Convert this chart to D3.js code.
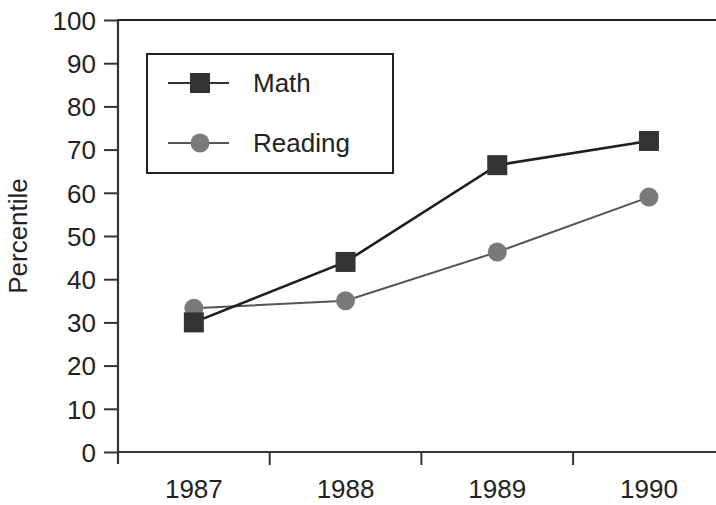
<!DOCTYPE html>
<html>
<head>
<meta charset="utf-8">
<script src="https://cdn.jsdelivr.net/npm/d3@7"></script>
<style>
  html, body { margin: 0; padding: 0; background: #fff; }
  svg { display: block; }
  text { font-family: "Liberation Sans", Arial, sans-serif; fill: #222; }
</style>
</head>
<body>
<svg id="chart" width="716" height="505"></svg>
<script>
const years = ["1987", "1988", "1989", "1990"];
const mathValues = [30, 44, 66.4, 72];
const readingValues = [33.3, 35, 46.3, 59];
const yTicks = [0, 10, 20, 30, 40, 50, 60, 70, 80, 90, 100];
const seriesNames = ["Math", "Reading"];

(function () {
const svg = d3.select("#chart");
const W = 716;
const plotLeft = 118, plotTop = 20, plotBottom = 452;
const step = 151.7;

const x = d3.scaleBand().domain(years).range([plotLeft, plotLeft + step * years.length]).padding(0);
const y = d3.scaleLinear().domain([0, 100]).range([plotBottom, plotTop]);

const axisColor = "#333";
const fontSize = 26;

// top frame line
svg.append("line")
  .attr("x1", plotLeft).attr("x2", W).attr("y1", plotTop).attr("y2", plotTop)
  .attr("stroke", "#222").attr("stroke-width", 2);

// y axis
const yAxis = d3.axisLeft(y).tickValues(yTicks).tickSize(14).tickPadding(8);
const gy = svg.append("g").attr("transform", `translate(${plotLeft},0)`).call(yAxis);
gy.select(".domain").remove();
gy.selectAll(".tick line").attr("stroke", axisColor).attr("stroke-width", 2);
gy.selectAll(".tick text").attr("font-size", fontSize).attr("fill", "#222")
  .style("font-family", "Liberation Sans, Arial, sans-serif").attr("dy", "0.36em");
svg.append("line").attr("x1", plotLeft).attr("x2", plotLeft).attr("y1", plotTop - 1).attr("y2", plotBottom + 12)
  .attr("stroke", axisColor).attr("stroke-width", 2.2);

// x axis
svg.append("line").attr("x1", plotLeft).attr("x2", W).attr("y1", plotBottom).attr("y2", plotBottom)
  .attr("stroke", axisColor).attr("stroke-width", 2.2);
const gx = svg.append("g");
gx.selectAll("line.xt").data(years.slice(1)).join("line")
  .attr("class", "xt")
  .attr("x1", d => x(d)).attr("x2", d => x(d))
  .attr("y1", plotBottom).attr("y2", plotBottom + 13)
  .attr("stroke", axisColor).attr("stroke-width", 2);
gx.selectAll("text").data(years).join("text")
  .attr("x", d => x(d) + x.bandwidth() / 2)
  .attr("y", 498)
  .attr("text-anchor", "middle")
  .attr("font-size", fontSize)
  .text(d => d);

// y label
svg.append("text")
  .attr("transform", `translate(27,236) rotate(-90)`)
  .attr("text-anchor", "middle")
  .attr("font-size", fontSize)
  .text("Percentile");

const cx = d => x(d) + x.bandwidth() / 2;
const lineGen = d3.line().x(d => cx(d.year)).y(d => y(d.value));

const readingData = years.map((yr, i) => ({ year: yr, value: readingValues[i] }));
const mathData = years.map((yr, i) => ({ year: yr, value: mathValues[i] }));

// Reading series
svg.append("path").datum(readingData).attr("d", lineGen)
  .attr("fill", "none").attr("stroke", "#555").attr("stroke-width", 2);
svg.selectAll("circle.rd").data(readingData).join("circle")
  .attr("class", "rd")
  .attr("cx", d => cx(d.year)).attr("cy", d => y(d.value)).attr("r", 9.5)
  .attr("fill", "#7a7a7a");

// Math series
svg.append("path").datum(mathData).attr("d", lineGen)
  .attr("fill", "none").attr("stroke", "#1e1e1e").attr("stroke-width", 2.6);
const sq = 20;
svg.selectAll("rect.mt").data(mathData).join("rect")
  .attr("class", "mt")
  .attr("x", d => cx(d.year) - sq / 2).attr("y", d => y(d.value) - sq / 2)
  .attr("width", sq).attr("height", sq)
  .attr("fill", "#333");

// legend
const lg = svg.append("g");
lg.append("rect").attr("x", 147).attr("y", 54).attr("width", 246).attr("height", 119)
  .attr("fill", "#fff").attr("stroke", "#222").attr("stroke-width", 2);
const legendRows = [
  { name: seriesNames[0], y: 83, type: "square" },
  { name: seriesNames[1], y: 143, type: "circle" }
];
legendRows.forEach(r => {
  lg.append("line").attr("x1", 168).attr("x2", 229).attr("y1", r.y).attr("y2", r.y)
    .attr("stroke", r.type === "square" ? "#333" : "#555").attr("stroke-width", 2);
  if (r.type === "square") {
    lg.append("rect").attr("x", 200 - 10).attr("y", r.y - 10).attr("width", 20).attr("height", 20).attr("fill", "#333");
  } else {
    lg.append("circle").attr("cx", 200).attr("cy", r.y).attr("r", 9.5).attr("fill", "#7a7a7a");
  }
  lg.append("text").attr("x", 253).attr("y", r.y).attr("dy", "0.36em")
    .attr("font-size", fontSize).text(r.name);
});
})();
</script>
</body>
</html>
